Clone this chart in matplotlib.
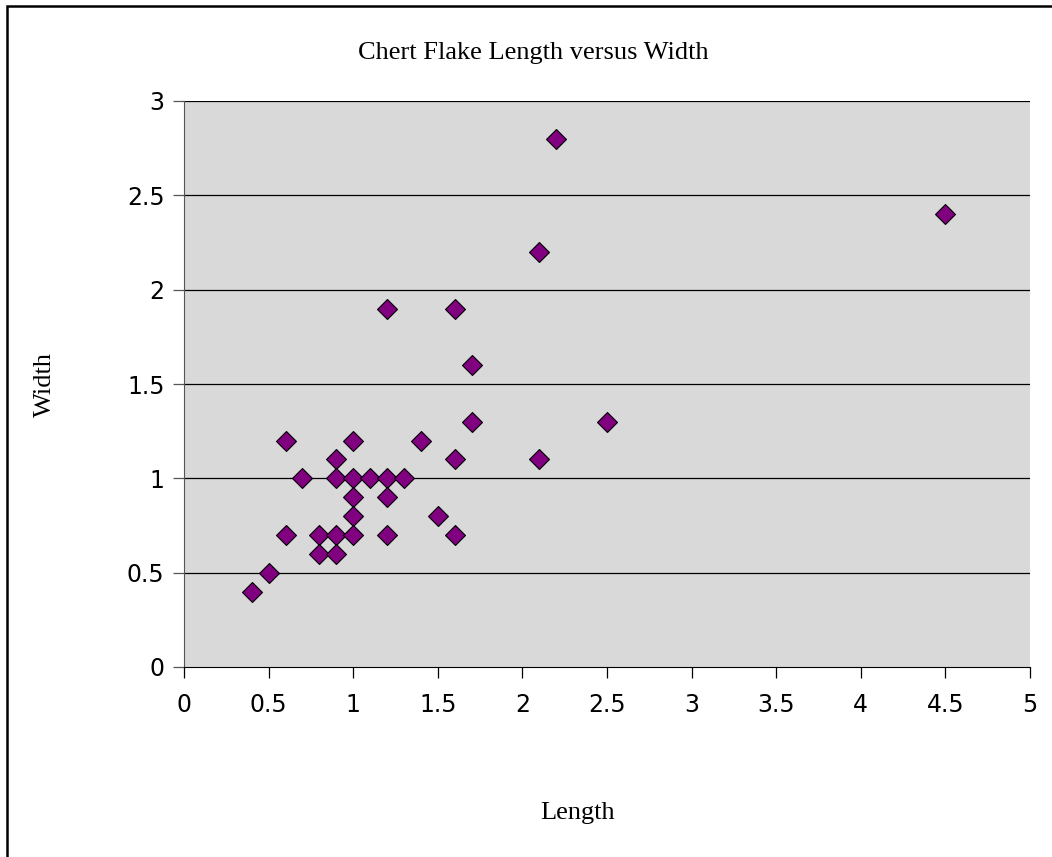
import matplotlib
matplotlib.use("Agg")
import matplotlib.pyplot as plt
from matplotlib.patches import Rectangle

length = [0.4, 0.5, 0.6, 0.6, 0.7, 0.8, 0.8, 0.9, 0.9, 0.9, 0.9,
          1.0, 1.0, 1.0, 1.0, 1.0, 1.1, 1.2, 1.2, 1.2, 1.2, 1.3,
          1.4, 1.5, 1.6, 1.6, 1.6, 1.7, 1.7, 2.1, 2.1, 2.2, 2.5, 4.5]
width = [0.4, 0.5, 1.2, 0.7, 1.0, 0.7, 0.6, 1.1, 1.0, 0.7, 0.6,
         1.2, 1.0, 0.9, 0.8, 0.7, 1.0, 1.9, 1.0, 0.9, 0.7, 1.0,
         1.2, 0.8, 1.9, 1.1, 0.7, 1.6, 1.3, 2.2, 1.1, 2.8, 1.3, 2.4]

x_ticks = [0, 0.5, 1, 1.5, 2, 2.5, 3, 3.5, 4, 4.5, 5]
y_ticks = [0, 0.5, 1, 1.5, 2, 2.5, 3]

fig = plt.figure(figsize=(10.52, 8.57), dpi=100)
ax = fig.add_axes([184 / 1052, 1 - 667 / 857, (1030 - 184) / 1052, (667 - 101) / 857])

# outer frame (only left and top edges visible in the original)
fig.patches.append(Rectangle((7 / 1052, -0.1), 2.0, 1.1 - 6 / 857, transform=fig.transFigure,
                             fill=False, edgecolor="black", linewidth=1.8))

ax.set_facecolor("#d9d9d9")
for y in y_ticks[1:]:
    ax.axhline(y, color="black", linewidth=0.9, zorder=1)

ax.plot(length, width, linestyle="none", marker="D", markersize=10.5,
        markerfacecolor="#800080", markeredgecolor="black", markeredgewidth=0.8, zorder=3)

ax.set_xlim(0, 5)
ax.set_ylim(0, 3)
ax.set_xticks(x_ticks)
ax.set_yticks(y_ticks)
ax.set_xticklabels([f"{t:g}" for t in x_ticks])
ax.set_yticklabels([f"{t:g}" for t in y_ticks])
ax.tick_params(direction="out", length=8, width=0.9, labelsize=17, pad=6, colors="black")
ax.tick_params(axis="x", pad=11)
ax.tick_params(axis="y", color="#555555")

ax.spines["top"].set_visible(False)
ax.spines["right"].set_visible(False)
ax.spines["left"].set_color("#555555")
ax.spines["bottom"].set_color("black")

fig.text(533 / 1052, 1 - 53 / 857, "Chert Flake Length versus Width", ha="center", va="center",
         family="Liberation Serif", fontsize=19)
fig.text(578 / 1052, 1 - 813 / 857, "Length", ha="center", va="center",
         family="Liberation Serif", fontsize=19)
fig.text(45 / 1052, 1 - 385 / 857, "Width", ha="center", va="center", rotation=90,
         family="Liberation Serif", fontsize=19)

fig.savefig("out.png", dpi=100)
